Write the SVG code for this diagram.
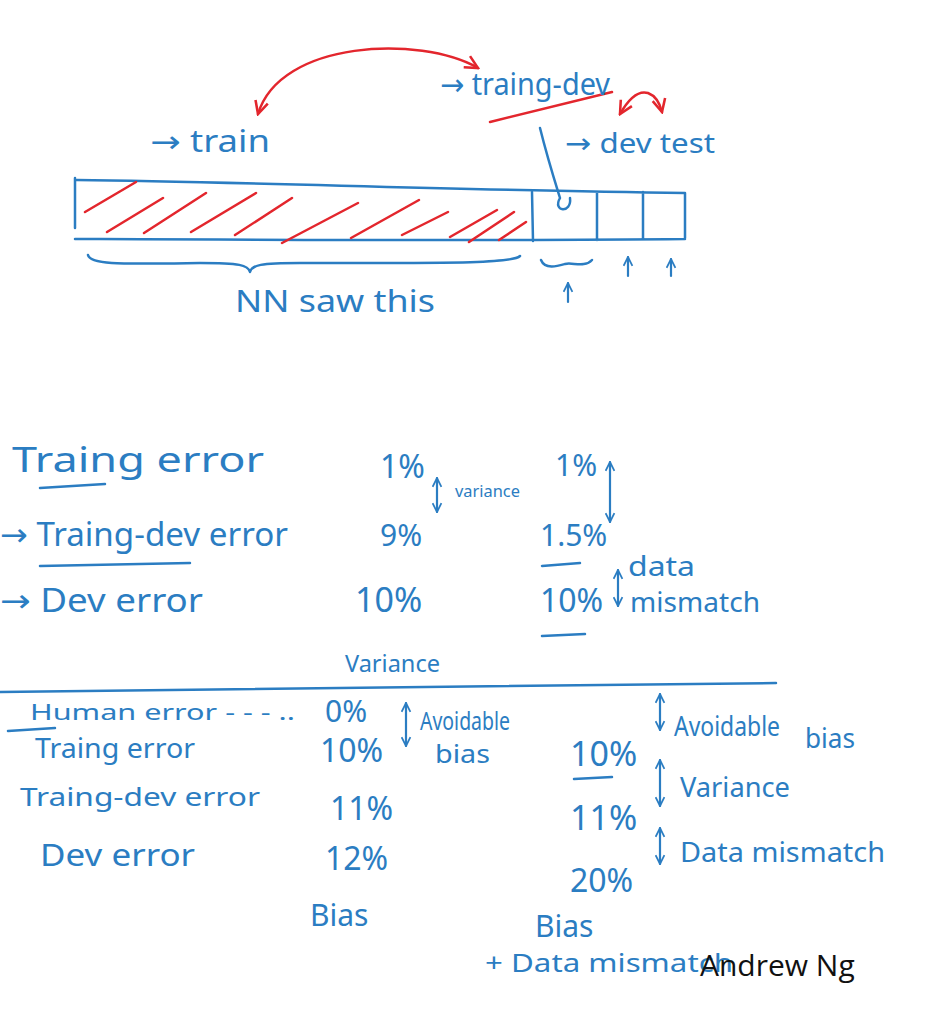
<svg xmlns="http://www.w3.org/2000/svg" width="952" height="1016" viewBox="0 0 952 1016">
<defs>
<style>
.b{fill:none;stroke:#2b7dc2;stroke-width:2.5;stroke-linecap:round;stroke-linejoin:round}
.r{fill:none;stroke:#e3262d;stroke-width:2.5;stroke-linecap:round;stroke-linejoin:round}
.t{fill:#2b7dc2;font-family:"Noto Sans","DejaVu Sans",sans-serif}
.ba{fill:none;stroke:#2b7dc2;stroke-width:2.2;stroke-linecap:round;marker-start:url(#ab);marker-end:url(#ab)}
.ua{fill:none;stroke:#2b7dc2;stroke-width:2.2;stroke-linecap:round;marker-end:url(#ab)}
</style>
<marker id="ab" viewBox="0 0 10 10" refX="9" refY="5" markerWidth="11" markerHeight="11" orient="auto-start-reverse" markerUnits="userSpaceOnUse">
<path d="M1,1 L9,5 L1,9" fill="none" stroke="#2b7dc2" stroke-width="1.6"/>
</marker>
<marker id="ar" viewBox="0 0 10 10" refX="9" refY="5" markerWidth="16" markerHeight="16" orient="auto-start-reverse" markerUnits="userSpaceOnUse">
<path d="M1,1 L9,5 L1,9" fill="none" stroke="#e3262d" stroke-width="1.6"/>
</marker>
</defs>
<rect width="952" height="1016" fill="#ffffff"/>

<g id="top">
<path class="r" d="M258,114 C280,40 420,35 478,68" marker-start="url(#ar)" marker-end="url(#ar)"/>
<path class="r" d="M490,122 L612,92"/>
<path class="r" d="M620,114 C628,100 638,90 648,93 C656,96 660,104 662,112" marker-start="url(#ar)" marker-end="url(#ar)"/>
<text class="t" x="440" y="95" font-size="30" textLength="170" lengthAdjust="spacingAndGlyphs">→ traing-dev</text>
<text class="t" x="150" y="152" font-size="30" textLength="120" lengthAdjust="spacingAndGlyphs">→ train</text>
<text class="t" x="565" y="153" font-size="28" textLength="150" lengthAdjust="spacingAndGlyphs">→ dev test</text>

<path class="b" d="M75,178 L75,228 M77,180 C250,182 450,190 685,193 L685,238 M75,239 C300,240 500,241 685,239 M532,192 L533,241 M597,192 L597,240 M643,192 L643,239"/>
<g class="r">
<path d="M85,212 L136,182 M107,232 L163,198 M144,233 L206,193 M191,232 L256,193 M235,235 L292,198 M282,243 L358,203 M351,238 L419,200 M402,235 L448,212 M450,237 L497,210 M469,242 L514,212 M499,240 L526,222"/>
</g>
<path class="b" d="M540,128 C548,160 556,185 560,198 C552,212 572,214 570,198"/>
<path class="b" d="M88,255 C90,265 120,264 200,263 C240,263 248,265 250,272 C252,265 260,263 300,263 C440,263 512,264 520,256"/>
<path class="b" d="M541,260 C545,270 558,266 565,264 C572,262 585,268 592,260"/>
<path class="ua" d="M568,302 L568,283"/>
<path class="ua" d="M628,276 L628,257"/>
<path class="ua" d="M671,276 L671,259"/>
<text class="t" x="235" y="312" font-size="30" textLength="200" lengthAdjust="spacingAndGlyphs">NN saw this</text>
</g>

<g id="table1">
<text class="t" x="12" y="472" font-size="34" textLength="252" lengthAdjust="spacingAndGlyphs">Traing error</text>
<path class="b" d="M40,488 L105,484"/>
<text class="t" x="0" y="546" font-size="32" textLength="288" lengthAdjust="spacingAndGlyphs">→ Traing-dev error</text>
<path class="b" d="M40,566 L190,563"/>
<text class="t" x="0" y="612" font-size="32" textLength="203" lengthAdjust="spacingAndGlyphs">→ Dev error</text>
<text class="t" x="380" y="478" font-size="32">1%</text>
<text class="t" x="380" y="546" font-size="30">9%</text>
<text class="t" x="355" y="612" font-size="34">10%</text>
<path class="ba" d="M437,478 L437,512"/>
<text class="t" x="455" y="497" font-size="16" textLength="65" lengthAdjust="spacingAndGlyphs">variance</text>
<text class="t" x="555" y="476" font-size="30">1%</text>
<text class="t" x="540" y="546" font-size="30">1.5%</text>
<path class="b" d="M542,566 L580,563"/>
<text class="t" x="540" y="612" font-size="32">10%</text>
<path class="b" d="M542,636 L585,634"/>
<path class="ba" d="M610,462 L610,522"/>
<path class="ba" d="M618,570 L618,606"/>
<text class="t" x="628" y="576" font-size="28" textLength="67" lengthAdjust="spacingAndGlyphs">data</text>
<text class="t" x="630" y="612" font-size="28" textLength="130" lengthAdjust="spacingAndGlyphs">mismatch</text>
<text class="t" x="345" y="672" font-size="24" textLength="95" lengthAdjust="spacingAndGlyphs">Variance</text>
</g>

<path class="b" d="M0,692 C300,690 600,686 776,683"/>

<g id="table2">
<text class="t" x="30" y="720" font-size="22" textLength="265" lengthAdjust="spacingAndGlyphs">Human error  - - - ..</text>
<path class="b" d="M8,731 L55,728"/>
<text class="t" x="325" y="722" font-size="30">0%</text>
<path class="ba" d="M406,703 L406,746"/>
<text class="t" x="420" y="730" font-size="26" textLength="90" lengthAdjust="spacingAndGlyphs">Avoidable</text>
<text class="t" x="435" y="763" font-size="26" textLength="55" lengthAdjust="spacingAndGlyphs">bias</text>
<text class="t" x="35" y="758" font-size="28" textLength="160" lengthAdjust="spacingAndGlyphs">Traing error</text>
<text class="t" x="320" y="762" font-size="32">10%</text>
<text class="t" x="20" y="806" font-size="26" textLength="240" lengthAdjust="spacingAndGlyphs">Traing-dev error</text>
<text class="t" x="330" y="820" font-size="32">11%</text>
<text class="t" x="40" y="866" font-size="30" textLength="155" lengthAdjust="spacingAndGlyphs">Dev error</text>
<text class="t" x="325" y="870" font-size="32">12%</text>
<text class="t" x="310" y="926" font-size="30">Bias</text>

<path class="ba" d="M660,694 L660,730"/>
<text class="t" x="674" y="736" font-size="28" textLength="106" lengthAdjust="spacingAndGlyphs">Avoidable</text>
<text class="t" x="805" y="748" font-size="28" textLength="50" lengthAdjust="spacingAndGlyphs">bias</text>
<text class="t" x="570" y="766" font-size="34">10%</text>
<path class="b" d="M574,779 L612,777"/>
<path class="ba" d="M660,760 L660,806"/>
<text class="t" x="680" y="797" font-size="28" textLength="110" lengthAdjust="spacingAndGlyphs">Variance</text>
<text class="t" x="570" y="830" font-size="34">11%</text>
<path class="ba" d="M660,828 L660,864"/>
<text class="t" x="680" y="862" font-size="28" textLength="205" lengthAdjust="spacingAndGlyphs">Data mismatch</text>
<text class="t" x="570" y="892" font-size="32">20%</text>
<text class="t" x="535" y="937" font-size="30">Bias</text>
<text class="t" x="485" y="972" font-size="26" textLength="248" lengthAdjust="spacingAndGlyphs">+ Data mismatch</text>
</g>

<text x="700" y="976" font-size="30" fill="#111111" font-family="'Open Sans','Noto Sans',sans-serif">Andrew Ng</text>
</svg>
